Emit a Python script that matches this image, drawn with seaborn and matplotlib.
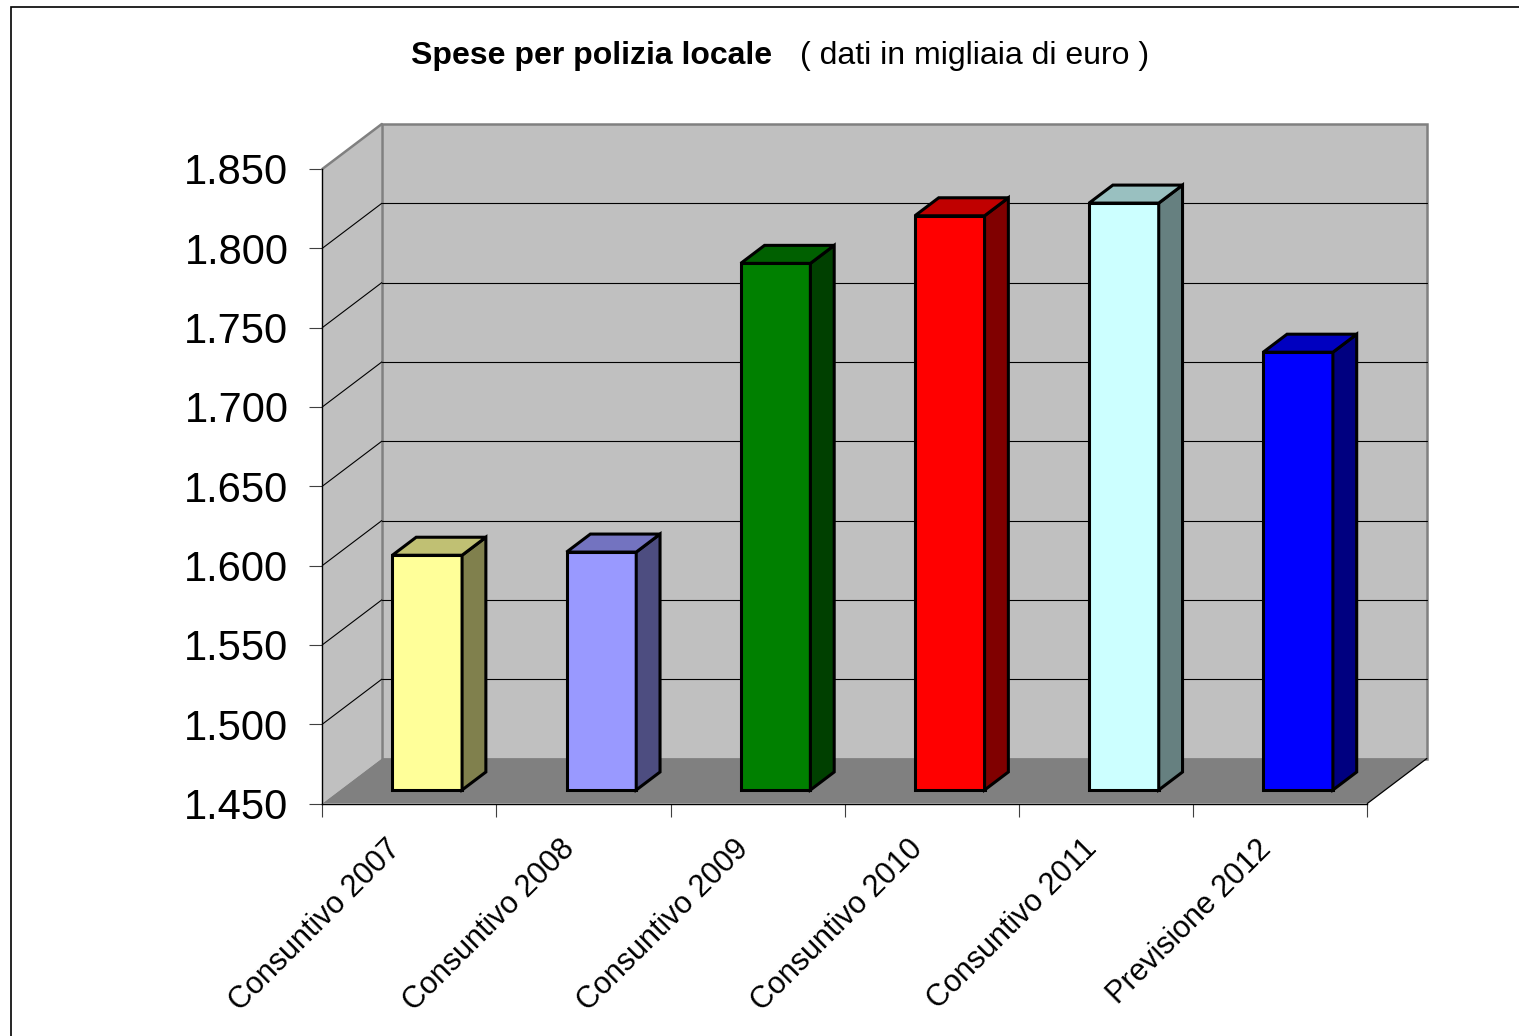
import matplotlib
matplotlib.use("Agg")
import matplotlib.pyplot as plt
import matplotlib.transforms as mtransforms
import seaborn as sns
import pandas as pd
from matplotlib.patches import Polygon, Rectangle
from matplotlib.lines import Line2D
from matplotlib.ticker import FuncFormatter

# --- data (thousands of euro) ---
categories = ["Consuntivo 2007", "Consuntivo 2008", "Consuntivo 2009",
              "Consuntivo 2010", "Consuntivo 2011", "Previsione 2012"]
values = [1598, 1600, 1782, 1812, 1820, 1726]
front_colors = ["#FFFF99", "#9999FF", "#008000", "#FF0000", "#CCFFFF", "#0000FF"]
side_colors = ["#80804D", "#4D4D80", "#004000", "#800000", "#668080", "#000080"]
top_colors = ["#C0C073", "#7373C0", "#006000", "#C00000", "#99C0C0", "#0000C0"]
y_ticks = list(range(1450, 1851, 50))
title_bold = "Spese per polizia locale"
title_note = "( dati in migliaia di euro )"

sns.set_theme(style="white")
plt.rcParams["font.family"] = ["Liberation Sans", "DejaVu Sans"]
plt.rcParams["text.color"] = "black"
plt.rcParams["xtick.labelcolor"] = "black"
plt.rcParams["ytick.labelcolor"] = "black"

W, H = 1519, 1036
fig = plt.figure(figsize=(W / 100, H / 100), dpi=100)
fig.patch.set_facecolor("white")
ax = fig.add_axes([322.3 / W, 1 - 803.5 / H, 1045 / W, 634.5 / H])
ax.set_facecolor("none")

Y0, Y1 = y_ticks[0], y_ticks[-1]
# oblique depth of the box, in data units
DX = 59.5 / (1045 / 6)
DY = 45 / (634.5 / (Y1 - Y0))
D0, D1 = 0.3, 0.7          # bar depth range inside the box
BW = 0.4                   # bar width

df = pd.DataFrame({"categoria": categories, "spesa": values})
sns.barplot(data=df, x="categoria", y="spesa", hue="categoria",
            palette=front_colors, width=BW, saturation=1, legend=False,
            edgecolor="black", linewidth=2.2, ax=ax, zorder=3)

# walls and floor
ax.add_patch(Polygon([(-0.5, Y0), (-0.5 + DX, Y0 + DY), (-0.5 + DX, Y1 + DY), (-0.5, Y1)],
                     closed=True, fc="#C0C0C0", ec="none", zorder=0.5, clip_on=False))
ax.add_patch(Rectangle((-0.5 + DX, Y0 + DY), 6, Y1 - Y0, fc="#C0C0C0", ec="#808080",
                       lw=1.8, zorder=0.55, clip_on=False))
ax.add_patch(Polygon([(-0.5, Y0), (5.5, Y0), (5.5 + DX, Y0 + DY), (-0.5 + DX, Y0 + DY)],
                     closed=True, fc="#808080", ec="none", zorder=0.6, clip_on=False))
ax.add_line(Line2D([-0.5, -0.5 + DX], [Y1, Y1 + DY], color="#808080", lw=1.8,
                   zorder=0.7, clip_on=False))
ax.add_line(Line2D([5.5, 5.5 + DX], [Y0, Y0 + DY], color="black", lw=0.9,
                   zorder=0.7, clip_on=False))
for v in y_ticks[1:-1]:
    ax.add_line(Line2D([-0.5 + DX, 5.5 + DX], [v + DY, v + DY], color="black",
                       lw=0.8, zorder=0.7, clip_on=False))
    ax.add_line(Line2D([-0.5, -0.5 + DX], [v, v + DY], color="black",
                       lw=0.8, zorder=0.7, clip_on=False))

# turn flat bars into prisms
ddx, ddy = (D1 - D0) * DX, (D1 - D0) * DY
for p in list(ax.patches):
    if p.get_zorder() != 3:
        continue
    i = int(round(p.get_x() + p.get_width() / 2))
    v = values[i]
    xl = i - BW / 2 + D0 * DX
    yb = Y0 + D0 * DY
    p.set_x(xl)
    p.set_y(yb)
    p.set_height(v - Y0)
    p.set_clip_on(False)
    p.set_joinstyle("miter")
    xr, yt = xl + BW, v + D0 * DY
    ax.add_patch(Polygon([(xr, yb), (xr + ddx, yb + ddy), (xr + ddx, yt + ddy), (xr, yt)],
                         closed=True, fc=side_colors[i], ec="black", lw=2.2,
                         joinstyle="miter", zorder=3, clip_on=False))
    ax.add_patch(Polygon([(xl, yt), (xr, yt), (xr + ddx, yt + ddy), (xl + ddx, yt + ddy)],
                         closed=True, fc=top_colors[i], ec="black", lw=2.2,
                         joinstyle="miter", zorder=3, clip_on=False))

# axes
ax.set_xlim(-0.5, 5.5)
ax.set_ylim(Y0, Y1)
ax.set_xlabel("")
ax.set_ylabel("")
for s in ("top", "right"):
    ax.spines[s].set_visible(False)
for s in ("left", "bottom"):
    ax.spines[s].set_color("black")
    ax.spines[s].set_linewidth(1.0)
    ax.spines[s].set_zorder(2.5)

ax.set_yticks(y_ticks)
ax.yaxis.set_major_formatter(FuncFormatter(lambda v, _: f"{v:,.0f}".replace(",", ".")))
ax.tick_params(axis="y", which="major", direction="out", length=9.4, width=0.8,
               color="#404040", pad=15, labelsize=30, labelcolor="black", left=True)

ax.set_xticks(range(len(categories)))
ax.set_xticks([k - 0.5 for k in range(len(categories) + 1)], minor=True)
ax.set_xticklabels(categories, rotation=45, ha="right", va="top",
                   rotation_mode="anchor", fontsize=22, color="black")
ax.tick_params(axis="x", which="major", length=0, pad=22)
ax.tick_params(axis="x", which="minor", direction="out", length=9.4, width=0.8,
               color="#404040", bottom=True)
shift = mtransforms.ScaledTranslation(-24 / 100, 0, fig.dpi_scale_trans)
for lab in ax.get_xticklabels():
    lab.set_transform(lab.get_transform() + shift)

# title
fig.text(772 / W, 1 - 56 / H, title_bold, ha="right", va="center",
         fontsize=23, fontweight="bold", color="black")
fig.text(800 / W, 1 - 56 / H, title_note, ha="left", va="center", fontsize=23,
         color="black")

# chart frame
fig.add_artist(Rectangle((11 / W, -0.1), 1.2, 1 - 7 / H + 0.1, transform=fig.transFigure,
                         fill=False, ec="black", lw=1.2))

fig.savefig("out.png", dpi=100)
